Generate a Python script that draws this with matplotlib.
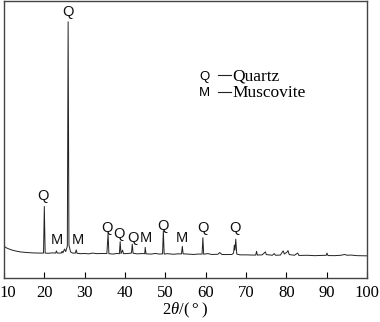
import matplotlib
matplotlib.use("Agg")
import matplotlib.pyplot as plt
import matplotlib.transforms as mtransforms

plt.rcParams['mathtext.fontset'] = 'custom'
plt.rcParams['mathtext.rm'] = 'Liberation Serif'
plt.rcParams['mathtext.it'] = 'Liberation Serif:italic'

two_theta = [10.0, 10.5, 11.0, 12.0, 13.0, 14.0, 15.5, 17.0, 18.5, 19.8,
             20.0, 20.2, 21.0, 22.0, 22.8, 23.0, 23.2, 24.2, 24.4, 24.6,
             25.0, 25.3, 25.7, 25.9, 26.1, 26.5, 27.0, 27.7, 27.9, 28.1,
             29.0, 30.0, 31.0, 32.0, 33.0, 34.0, 35.5, 35.8, 36.0, 37.0,
             38.0, 38.6, 38.8, 39.0, 39.4, 39.6, 40.5, 41.6, 41.8, 42.0,
             43.0, 44.0, 44.9, 45.0, 45.2, 46.5, 47.5, 48.5, 49.3, 49.5,
             49.7, 50.5, 52.0, 53.0, 54.0, 54.2, 54.4, 55.5, 57.0, 58.0,
             59.1, 59.3, 59.5, 60.5, 61.5, 63.0, 63.5, 64.0, 65.0, 66.5,
             66.9, 67.1, 67.25, 67.45, 67.7, 68.5, 70.0, 71.5, 72.4, 72.6,
             72.8, 74.0, 74.8, 75.0, 76.5, 77.0, 77.3, 78.5, 79.2, 79.5,
             80.2, 80.4, 80.7, 82.0, 82.8, 83.1, 85.0, 87.0, 88.5, 89.9,
             90.05, 90.3, 92.0, 93.5, 94.5, 95.0, 96.0, 97.5, 100.0]
intensity = [320, 305, 295, 280, 270, 262, 256, 252, 250, 250,
             720, 250, 248, 252, 250, 272, 250, 250, 268, 252,
             290, 265, 320, 2580, 330, 262, 250, 250, 282, 248,
             244, 246, 242, 250, 244, 246, 245, 450, 244, 240,
             246, 244, 365, 245, 280, 244, 245, 250, 340, 248,
             242, 245, 244, 308, 242, 240, 246, 240, 242, 475,
             240, 244, 238, 242, 242, 318, 242, 240, 236, 240,
             240, 405, 238, 245, 236, 238, 255, 236, 235, 236,
             250, 330, 280, 390, 240, 232, 232, 230, 230, 268,
             230, 232, 262, 235, 228, 245, 228, 230, 272, 240,
             262, 275, 235, 228, 250, 226, 228, 224, 226, 228,
             250, 225, 224, 228, 236, 228, 230, 224, 222]

# phase labels above the peaks
peak_names = ['Q', 'Q', 'M', 'M', 'Q', 'Q', 'Q', 'M', 'Q', 'M', 'Q', 'Q']
peak_x = [25.9, 19.7, 23.2, 28.4, 35.6, 38.6, 41.9, 45.1, 49.5, 54.1, 59.3, 67.3]
peak_y = [2680, 820, 380, 380, 500, 440, 400, 400, 520, 400, 500, 500]

x_ticks = [10, 20, 30, 40, 50, 60, 70, 80, 90, 100]

fig = plt.figure(figsize=(3.8, 3.22), dpi=100)
ax = fig.add_axes([0.0105, 0.137, 0.9555, 0.86])

ax.plot(two_theta, intensity, color='#222222', lw=0.7)

for name, x, y in zip(peak_names, peak_x, peak_y):
    ax.text(x, y, name, ha='center', va='center', fontsize=10.5,
            family='Liberation Sans', color='#111111')

# legend written as text
ax.text(0.551, 0.727, 'Q', transform=ax.transAxes, ha='center', va='center',
        fontsize=9.5, family='Liberation Sans')
ax.text(0.551, 0.666, 'M', transform=ax.transAxes, ha='center', va='center',
        fontsize=9.5, family='Liberation Sans')
for yy in (0.731, 0.670):
    ax.plot([0.590, 0.626], [yy, yy], transform=ax.transAxes, color='#222222',
            lw=0.8)
ax.text(0.630, 0.727, 'Quartz', transform=ax.transAxes, ha='left', va='center',
        fontsize=12.5, family='Liberation Serif')
ax.text(0.630, 0.666, 'Muscovite', transform=ax.transAxes, ha='left', va='center',
        fontsize=12.5, family='Liberation Serif')

ax.set_xlim(10, 100)
ax.set_ylim(0, 2790)
ax.set_xticks(x_ticks)
ax.set_xticklabels([str(t) for t in x_ticks], family='Liberation Serif', fontsize=12)
ax.set_yticks([])
ax.tick_params(axis='x', direction='in', length=4, width=0.8, pad=5)
# keep the first label inside the figure
first = ax.get_xticklabels()[0]
first.set_transform(first.get_transform() +
                    mtransforms.ScaledTranslation(4 / 100, 0, fig.dpi_scale_trans))
ax.set_xlabel('$2\\theta$/(\u2009°\u2009)', family='Liberation Serif', fontsize=12,
              labelpad=0)

for s in ax.spines.values():
    s.set_color('#444444')
    s.set_linewidth(1.0)

fig.savefig('out.png', dpi=100)
